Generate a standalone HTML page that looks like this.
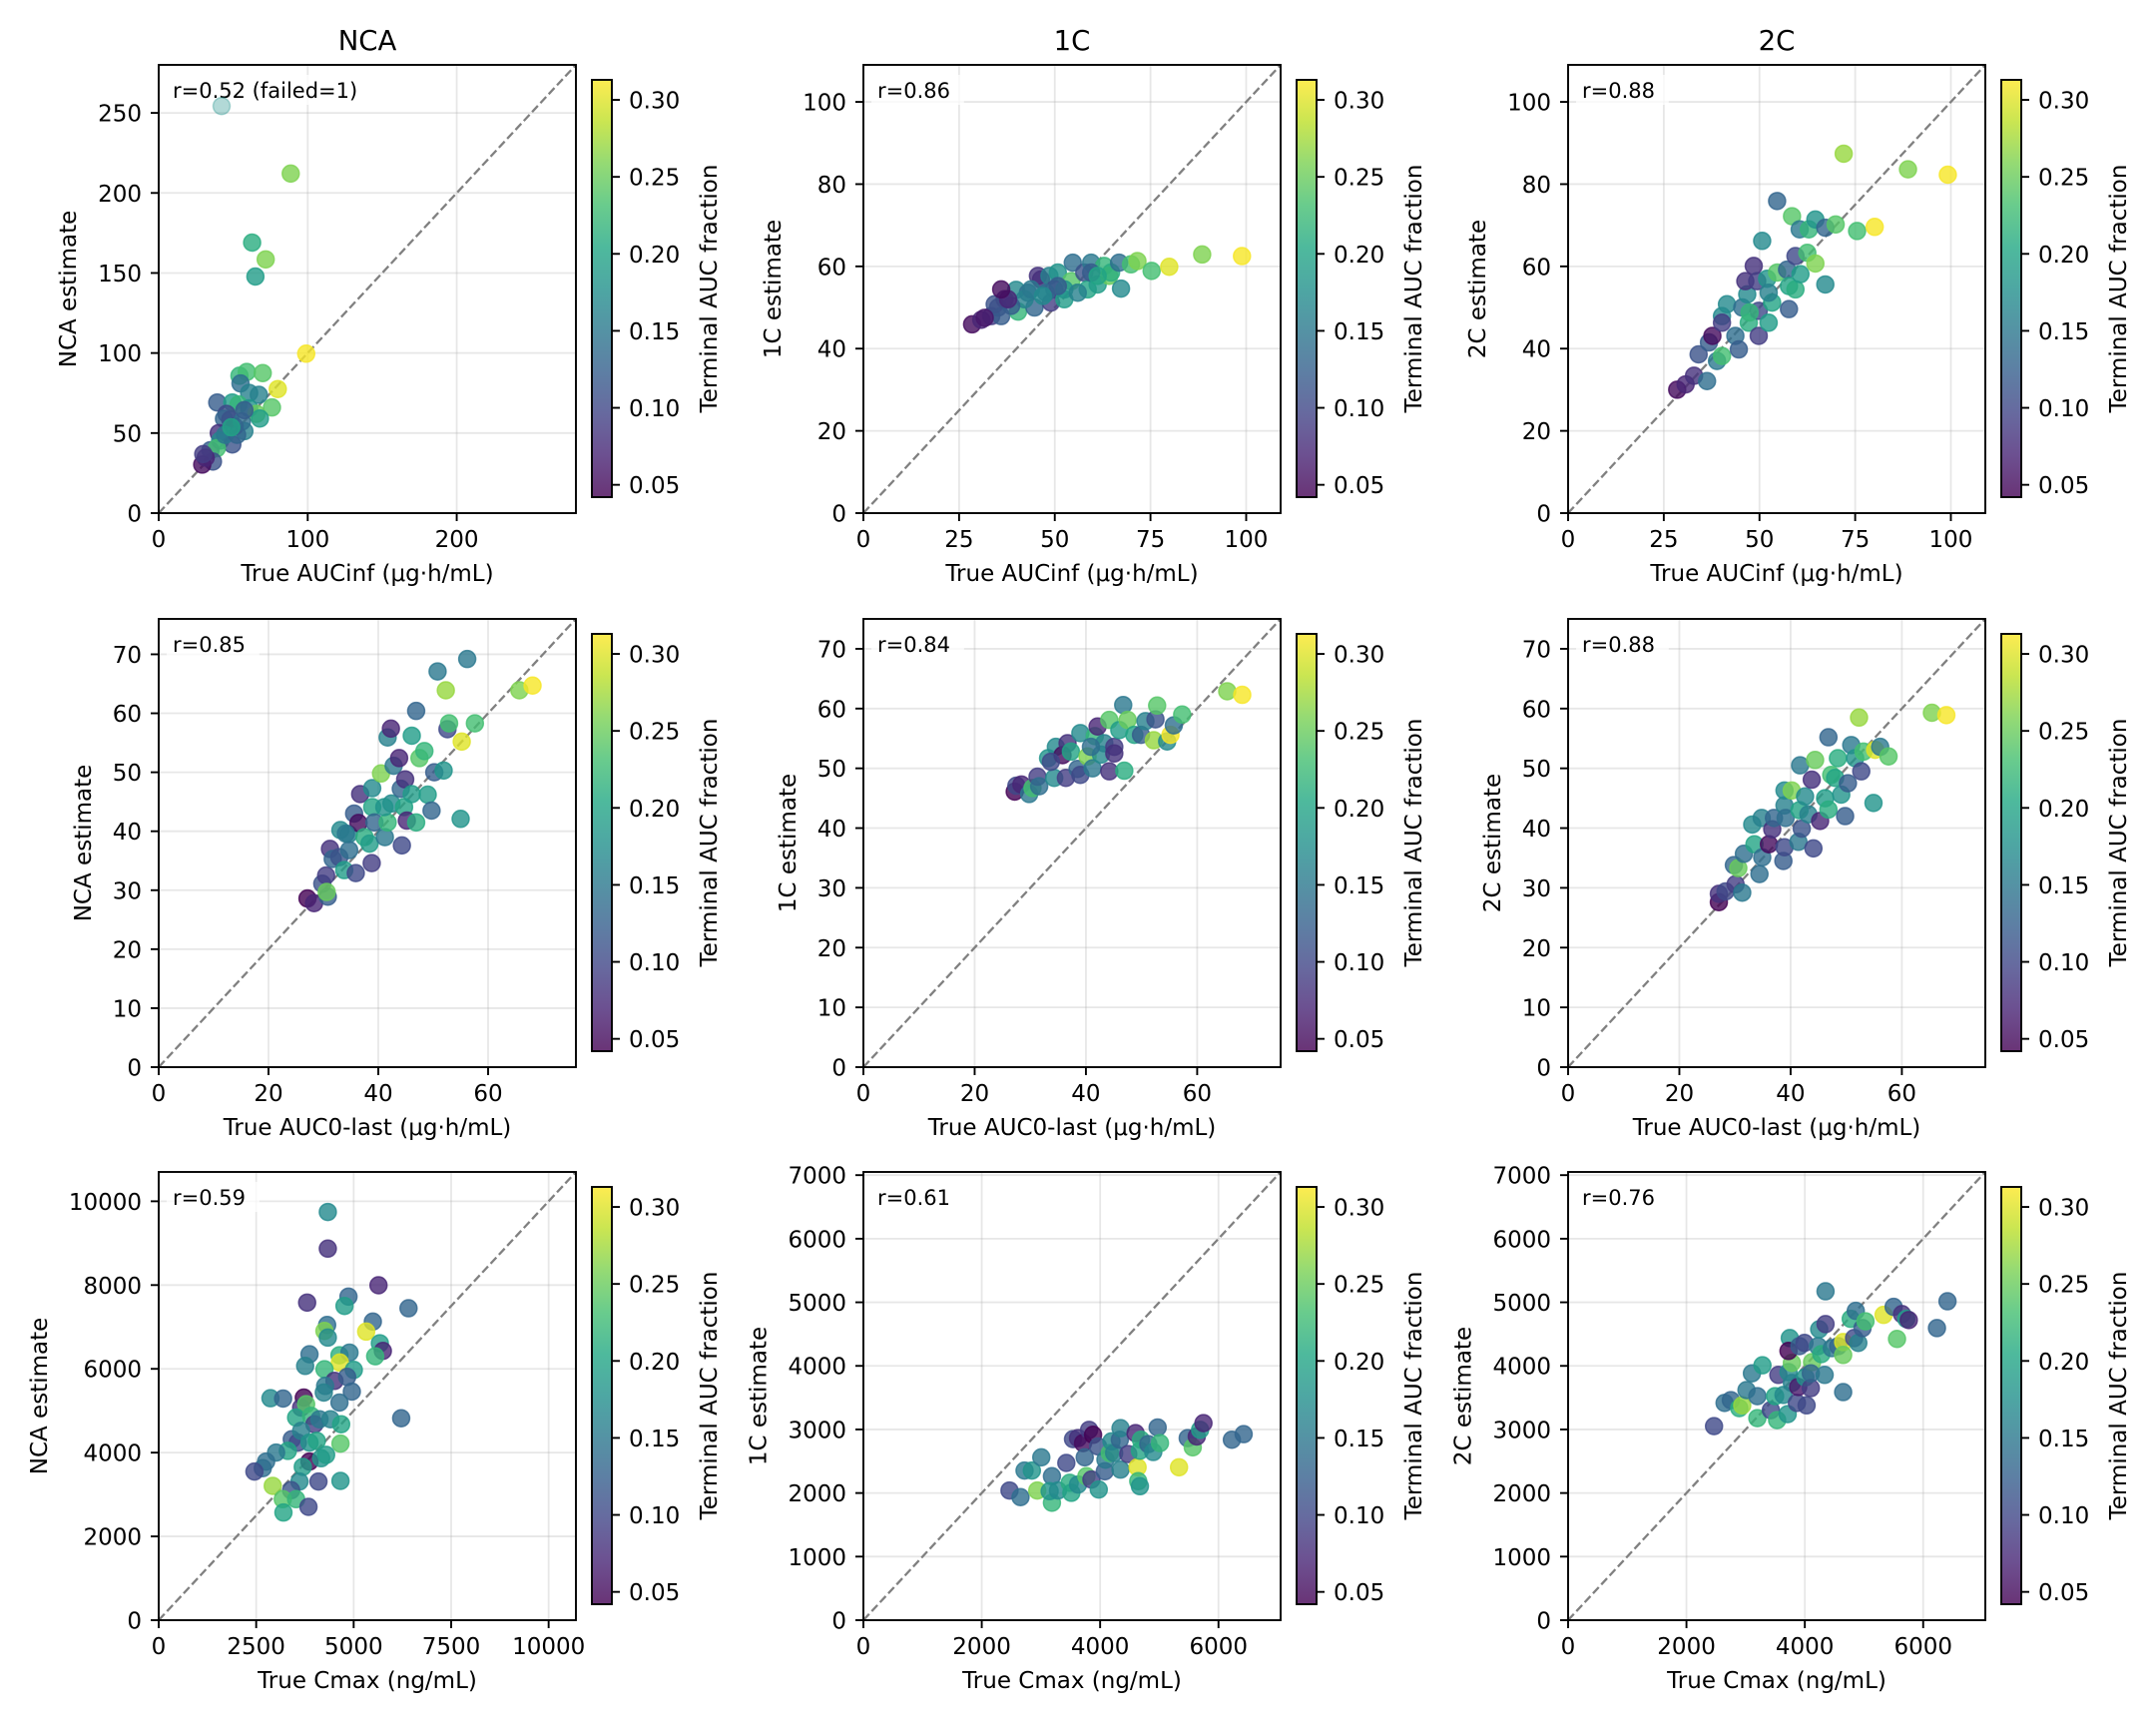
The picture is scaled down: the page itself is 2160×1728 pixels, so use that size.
<!DOCTYPE html>
<html><head><meta charset="utf-8"><title>Estimate vs truth</title>
<style>
html,body{margin:0;padding:0;background:#fff;}
svg{display:block;font-family:"DejaVu Sans","Liberation Sans",sans-serif;}
</style></head>
<body>
<svg id="fig" width="2160" height="1728" viewBox="0 0 2160 1728" xmlns="http://www.w3.org/2000/svg">
<defs>
<linearGradient id="vir" x1="0" y1="1" x2="0" y2="0">
<stop offset="0" stop-color="#440154"/><stop offset="0.1" stop-color="#482475"/><stop offset="0.2" stop-color="#414487"/><stop offset="0.3" stop-color="#355f8d"/><stop offset="0.4" stop-color="#2a788e"/><stop offset="0.5" stop-color="#21918c"/><stop offset="0.6" stop-color="#22a884"/><stop offset="0.7" stop-color="#44bf70"/><stop offset="0.8" stop-color="#7ad151"/><stop offset="0.9" stop-color="#bddf26"/><stop offset="1" stop-color="#fde725"/>
</linearGradient>
</defs>
</svg>
<script>
// ---- data: row1 (AUCinf) ----
const p11_x=[42.2,88.6,62.7,71.8,64.9,99.0,79.9,54.2,59.1,69.8,54.9,39.3,60.7,67.2,49.4,53.6,60.7,76.0,65.6,45.5,43.8,48.0,67.9,57.5,51.0,40.3,55.8,41.2,49.4,34.7,39.0,36.4,29.2,31.5,44.5,52.6,29.9,48.7,57.5];
const p11_y=[254.3,212.1,169.0,158.5,147.8,99.6,77.5,85.8,88.2,87.5,81.0,69.1,75.1,73.9,69.1,67.9,65.5,66.0,62.0,62.0,58.9,58.4,59.1,51.2,54.1,50.0,57.2,45.3,42.9,39.3,40.5,32.2,30.3,34.6,48.9,48.9,36.9,53.6,64.3];
const p11_c=[0.18,0.26,0.21,0.26,0.19,0.31,0.30,0.22,0.23,0.24,0.14,0.12,0.16,0.16,0.19,0.22,0.18,0.24,0.25,0.10,0.13,0.11,0.19,0.16,0.09,0.08,0.14,0.17,0.11,0.12,0.23,0.11,0.05,0.07,0.15,0.13,0.09,0.20,0.12];
const p12_x=[28.4,30.8,33.4,35.2,36.9,36.0,40.4,39.9,43.0,44.7,46.4,45.6,48.6,50.8,49.9,49.0,52.5,54.3,54.7,57.7,59.5,58.6,61.2,62.9,64.2,64.7,66.8,67.3,69.9,71.6,75.3,79.9,88.5,98.9,42.1,38.6,34.3,52.5,56.0,59.5,47.7,37.8,43.8,50.8,61.2,31.7,36.0,46.9];
const p12_y=[45.9,47.0,47.9,50.0,52.0,47.9,49.0,54.3,53.6,50.0,56.8,57.7,57.7,58.5,54.4,51.2,52.0,56.4,60.9,58.5,60.9,54.4,55.6,60.1,57.7,58.5,60.9,54.6,60.5,61.3,58.9,59.9,62.9,62.5,52.0,50.4,50.8,54.4,53.6,58.5,53.6,52.0,54.4,55.2,57.7,47.5,54.4,52.8];
const p12_c=[0.05,0.07,0.09,0.10,0.08,0.12,0.22,0.17,0.14,0.13,0.07,0.08,0.16,0.18,0.10,0.09,0.19,0.24,0.14,0.11,0.15,0.20,0.19,0.22,0.25,0.21,0.14,0.17,0.23,0.26,0.23,0.30,0.26,0.31,0.16,0.12,0.11,0.18,0.16,0.12,0.14,0.07,0.15,0.12,0.20,0.06,0.05,0.17];
const p13_x=[28.5,30.7,32.9,34.1,36.3,36.8,37.7,38.9,40.2,40.2,40.2,41.5,43.7,44.6,45.5,46.8,47.2,46.3,48.5,49.4,49.8,49.8,50.7,52.0,52.4,53.3,54.6,54.6,57.2,57.7,57.7,58.5,59.4,59.4,60.5,60.7,62.5,62.9,64.6,64.6,67.2,67.2,69.9,72.0,75.5,80.1,88.8,99.2,52.4,47.4];
const p13_y=[30.0,31.3,33.4,38.6,32.1,41.5,43.1,37.0,38.2,47.9,46.3,50.8,43.1,39.8,50.0,53.2,46.3,56.4,60.1,56.4,43.1,49.2,66.2,57.0,46.3,51.2,58.5,75.9,59.2,49.6,55.2,72.2,62.5,54.4,69.0,58.1,63.3,69.0,71.4,60.7,55.6,69.4,70.2,87.4,68.6,69.6,83.6,82.3,53.6,48.8];
const p13_c=[0.05,0.07,0.08,0.11,0.14,0.12,0.05,0.15,0.23,0.17,0.09,0.17,0.14,0.12,0.14,0.17,0.21,0.08,0.08,0.09,0.09,0.10,0.17,0.18,0.19,0.20,0.24,0.13,0.13,0.12,0.20,0.24,0.10,0.21,0.15,0.19,0.23,0.22,0.18,0.26,0.17,0.13,0.24,0.27,0.23,0.31,0.26,0.31,0.16,0.22];
// ---- data: row2 (AUC0-last) ----
const p21_x=[27.1,28.3,29.8,30.5,30.8,30.6,31.2,31.7,32.9,33.1,33.8,34.6,34.7,35.6,35.9,36.4,36.7,37.5,38.4,38.8,38.9,38.9,39.3,40.5,41.2,41.7,41.7,42.3,42.4,42.8,43.8,44.1,44.3,44.7,44.9,45.2,46.1,46.1,46.9,46.9,47.5,48.4,49.0,49.7,50.2,50.8,51.9,52.3,52.6,52.9,55.0,55.2,56.2,57.6,65.7,68.1,34.1,41.1];
const p21_y=[28.6,27.8,31.1,32.5,28.9,29.7,37.0,35.3,35.6,40.2,33.4,39.5,36.8,43.0,32.9,41.4,46.3,39.0,37.9,34.6,47.3,44.1,41.5,49.8,39.0,55.9,41.5,57.4,44.7,51.1,52.4,47.2,37.6,44.1,48.8,41.8,46.3,56.2,60.4,41.5,52.4,53.6,46.2,43.5,50.0,67.1,50.3,63.9,57.3,58.3,42.1,55.2,69.2,58.3,63.9,64.7,39.6,44.1];
const p21_c=[0.04,0.07,0.11,0.09,0.12,0.25,0.08,0.13,0.11,0.17,0.19,0.16,0.14,0.12,0.10,0.05,0.08,0.21,0.19,0.09,0.17,0.20,0.13,0.26,0.15,0.16,0.22,0.07,0.17,0.15,0.07,0.13,0.10,0.20,0.08,0.07,0.19,0.19,0.13,0.21,0.24,0.22,0.19,0.13,0.12,0.15,0.18,0.27,0.10,0.23,0.18,0.30,0.15,0.23,0.26,0.31,0.15,0.18];
const p22_x=[27.2,27.5,28.4,29.8,30.4,31.3,31.6,33.2,34.3,34.6,35.8,36.4,36.7,37.3,38.5,39.0,39.0,40.3,41.2,41.6,42.1,42.7,43.3,44.2,44.2,45.1,45.1,46.0,46.7,46.9,47.5,48.7,49.9,50.7,52.2,52.5,52.8,54.6,55.2,55.8,57.3,65.4,68.1,33.7,40.9];
const p22_y=[46.1,47.1,47.3,45.7,46.7,48.6,47.0,51.7,48.4,53.6,52.2,48.4,54.2,52.8,49.9,48.9,55.9,52.0,50.0,55.4,57.0,52.3,54.2,49.5,58.1,53.6,52.5,56.4,60.6,49.6,58.1,55.6,55.6,57.9,54.7,58.2,60.5,54.5,55.6,57.2,59.0,62.9,62.3,51.1,53.6];
const p22_c=[0.04,0.10,0.07,0.15,0.23,0.09,0.14,0.18,0.17,0.17,0.05,0.09,0.08,0.20,0.13,0.10,0.17,0.26,0.15,0.22,0.07,0.17,0.16,0.08,0.24,0.09,0.08,0.19,0.15,0.21,0.25,0.20,0.12,0.16,0.27,0.11,0.24,0.17,0.31,0.14,0.23,0.26,0.31,0.10,0.14];
const p23_x=[27.1,27.1,28.3,30.1,31.3,29.8,30.6,31.6,33.1,33.5,34.4,34.8,34.9,36.1,36.7,37.0,38.7,38.9,38.9,38.9,40.2,39.1,41.4,41.6,41.7,42.0,42.6,43.2,43.8,44.1,44.4,45.3,46.2,46.8,47.3,48.0,48.5,49.1,49.8,50.3,50.9,51.6,52.3,52.7,53.1,54.9,55.2,56.1,57.6,65.4,68.0,46.8];
const p23_y=[27.6,29.0,29.4,30.6,29.2,33.8,33.3,35.7,40.6,37.3,32.3,41.7,35.1,37.3,39.8,41.7,34.5,36.8,43.8,46.3,46.3,41.7,37.7,43.0,50.5,39.9,45.3,42.3,48.1,36.6,51.4,41.2,45.0,43.1,48.9,48.4,51.7,45.6,42.0,47.5,53.9,51.7,58.5,49.5,52.8,44.2,53.1,53.6,52.0,59.3,58.9,55.2];
const p23_c=[0.04,0.08,0.10,0.09,0.15,0.13,0.25,0.14,0.17,0.20,0.14,0.16,0.14,0.05,0.08,0.13,0.12,0.10,0.16,0.17,0.26,0.14,0.15,0.20,0.15,0.11,0.17,0.16,0.08,0.10,0.25,0.07,0.19,0.21,0.23,0.20,0.21,0.18,0.12,0.12,0.15,0.18,0.27,0.10,0.23,0.18,0.30,0.15,0.24,0.26,0.31,0.13];
// ---- data: row3 (Cmax) ----
const p31_x=[4337,4337,5637,3807,4867,4765,6407,4320,4250,4337,5492,5321,5672,5749,5552,3867,3756,4636,4893,4645,5004,4252,4508,4833,4269,4234,4953,4636,2866,3191,3721,3653,3781,3524,3909,3995,4123,4406,4679,3413,3567,3653,3867,4055,4662,3311,3011,2755,2669,2455,3867,3695,4166,4294,3610,4097,4662,2925,3396,3182,3524,3199,3841,6219];
const p31_y=[9745,8870,7995,7582,7725,7502,7446,7048,6905,6746,7128,6889,6611,6428,6300,6348,6070,6325,6388,6150,5975,5990,5712,5808,5593,5434,5457,5195,5298,5290,5314,5076,5155,4837,4877,4678,4797,4797,4678,4320,4240,4519,4240,4280,4216,4041,4002,3787,3628,3548,3787,3659,3866,3946,3309,3309,3325,3206,3103,2888,2888,2570,2705,4821];
const p31_c=[0.17,0.08,0.07,0.08,0.13,0.19,0.13,0.14,0.26,0.17,0.13,0.30,0.19,0.07,0.22,0.14,0.16,0.21,0.15,0.30,0.19,0.22,0.08,0.12,0.15,0.16,0.13,0.14,0.17,0.13,0.04,0.08,0.24,0.20,0.22,0.09,0.15,0.16,0.20,0.12,0.10,0.16,0.18,0.20,0.24,0.20,0.15,0.14,0.14,0.10,0.04,0.19,0.18,0.19,0.17,0.10,0.18,0.27,0.11,0.24,0.22,0.20,0.10,0.13];
const p32_x=[2469,2655,2723,2847,2938,3006,3186,3186,3147,3288,3429,3486,3514,3542,3627,3627,3712,3740,3768,3814,3881,3853,3966,3977,4079,4090,4164,4192,4237,4333,4345,4345,4475,4599,4633,4644,4672,4672,4689,4814,4898,4972,5011,5333,5480,5565,5633,5689,5746,6226,6425];
const p32_y=[2040,1935,2353,2353,2040,2561,2264,1847,2029,2040,2473,2160,2003,2848,2864,2134,2786,2561,2264,2994,2916,2212,2733,2055,2342,2525,2629,2812,2629,2838,3020,2368,2613,2942,2405,2186,2107,2666,2838,2770,2645,3031,2786,2405,2864,2718,2890,2994,3099,2838,2926];
const p32_c=[0.10,0.14,0.15,0.18,0.26,0.15,0.14,0.22,0.18,0.17,0.10,0.21,0.20,0.10,0.08,0.17,0.05,0.13,0.24,0.09,0.04,0.09,0.11,0.18,0.12,0.15,0.23,0.17,0.16,0.13,0.16,0.16,0.09,0.07,0.30,0.22,0.18,0.20,0.21,0.13,0.17,0.13,0.22,0.30,0.13,0.24,0.07,0.19,0.07,0.13,0.13];
const p33_x=[2466,2644,2750,2892,2942,3014,3106,3198,3198,3284,3426,3497,3532,3553,3639,3710,3724,3781,3781,3746,3724,3866,3888,3909,3994,4009,4030,4101,4122,4101,4222,4243,4279,4335,4350,4350,4456,4563,4648,4648,4648,4776,4833,4861,4904,4975,5025,5331,5501,5558,5643,5714,5757,6233,6411];
const p33_y=[3052,3417,3461,3335,3379,3619,3883,3524,3178,4009,3304,3524,3147,3858,3543,3241,3902,3732,4047,4437,4235,3417,3669,4311,4361,3820,3379,3650,4059,3883,4311,4575,4185,3858,5173,4657,4279,4311,3587,4374,4172,4739,4437,4865,4361,4594,4701,4802,4928,4424,4814,4739,4720,4594,5016];
const p33_c=[0.10,0.14,0.13,0.21,0.27,0.15,0.15,0.14,0.22,0.19,0.10,0.20,0.22,0.09,0.17,0.18,0.17,0.16,0.25,0.18,0.04,0.10,0.06,0.12,0.10,0.18,0.10,0.09,0.25,0.13,0.15,0.17,0.21,0.15,0.15,0.09,0.15,0.13,0.14,0.30,0.25,0.21,0.10,0.14,0.16,0.12,0.23,0.30,0.13,0.24,0.08,0.19,0.07,0.13,0.13];
// ---- labels / ticks ----
const colTitles=["NCA","1C","2C"];
const yLabels=["NCA estimate","1C estimate","2C estimate"];
const xLabels=["True AUCinf (μg·h/mL)","True AUC0-last (μg·h/mL)","True Cmax (ng/mL)"];
const rValues=["r=0.52 (failed=1)","r=0.86","r=0.88","r=0.85","r=0.84","r=0.88","r=0.59","r=0.61","r=0.76"];
const ticksAUCinfNCA=[0,100,200];
const ticksAUCinfNCAy=[0,50,100,150,200,250];
const ticksAUCinfX=[0,25,50,75,100];
const ticksAUCinfY=[0,20,40,60,80,100];
const ticksAUClast=[0,20,40,60];
const ticksAUClastY=[0,10,20,30,40,50,60,70];
const ticksCmaxNCA=[0,2500,5000,7500,10000];
const ticksCmaxNCAy=[0,2000,4000,6000,8000,10000];
const ticksCmax=[0,2000,4000,6000];
const ticksCmaxY=[0,1000,2000,3000,4000,5000,6000,7000];
const cbTicks=[0.05,0.10,0.15,0.20,0.25,0.30];
const cbRange=[0.042,0.313];
const limits=[280,109,109,76,75,75,10700,7050,7050];

const NS="http://www.w3.org/2000/svg";
const svg=document.getElementById('fig');
const VIR=["#440154","#482475","#414487","#355f8d","#2a788e","#21918c","#22a884","#44bf70","#7ad151","#bddf26","#fde725"];
function hex(h){return [parseInt(h.substr(1,2),16),parseInt(h.substr(3,2),16),parseInt(h.substr(5,2),16)];}
function viridis(v){
  let t=(v-cbRange[0])/(cbRange[1]-cbRange[0]);t=Math.max(0,Math.min(1,t));
  const f=t*10,i=Math.min(9,Math.floor(f)),r=f-i;const a=hex(VIR[i]),b=hex(VIR[i+1]);
  return "rgb("+a.map((c,k)=>Math.round(c+(b[k]-c)*r)).join(",")+")";
}
function el(tag,parent){const e=document.createElementNS(NS,tag);parent.appendChild(e);return e;}
function set(e,o){for(const k in o)e.setAttribute(k,o[k]);return e;}

const COLX=[159,865,1571], ROWY=[65,620,1174], W=418, H=449;
const series=[[p11_x,p11_y,p11_c],[p12_x,p12_y,p12_c],[p13_x,p13_y,p13_c],[p21_x,p21_y,p21_c],[p22_x,p22_y,p22_c],[p23_x,p23_y,p23_c],[p31_x,p31_y,p31_c],[p32_x,p32_y,p32_c],[p33_x,p33_y,p33_c]];
const xt=[ticksAUCinfNCA,ticksAUCinfX,ticksAUCinfX,ticksAUClast,ticksAUClast,ticksAUClast,ticksCmaxNCA,ticksCmax,ticksCmax];
const yt=[ticksAUCinfNCAy,ticksAUCinfY,ticksAUCinfY,ticksAUClastY,ticksAUClastY,ticksAUClastY,ticksCmaxNCAy,ticksCmaxY,ticksCmaxY];
const FS=23;

for(let r=0;r<3;r++)for(let c=0;c<3;c++){
  const idx=r*3+c, L=COLX[c], T=ROWY[r], lim=limits[idx];
  const sx=v=>L+v/lim*W, sy=v=>T+H-v/lim*H;
  const g=el('g',svg);
  
  
  const clip=el('clipPath',svg);set(clip,{id:'cl'+idx});
  set(el('rect',clip),{x:L,y:T,width:W,height:H});
  xt[idx].forEach(v=>{const l=el('line',g);set(l,{x1:sx(v),x2:sx(v),y1:T,y2:T+H,stroke:'#b0b0b0','stroke-opacity':0.3,'stroke-width':1.8});
    
    });
  yt[idx].forEach(v=>{const l=el('line',g);set(l,{x1:L,x2:L+W,y1:sy(v),y2:sy(v),stroke:'#b0b0b0','stroke-opacity':0.3,'stroke-width':1.8});
    
    });
  const d=el('line',g);set(d,{x1:sx(0),y1:sy(0),x2:sx(lim),y2:sy(lim),stroke:'#808080','stroke-width':2.3,'stroke-dasharray':'8.5,3.7','clip-path':'url(#cl'+idx+')'});
  
  
  const ab=el('rect',g);set(ab,{x:L+8,y:T+10,width:rValues[idx].length*12.8+16,height:30,fill:'#fff','fill-opacity':0.75});
  const at=el('text',g);set(at,{x:L+14,y:T+33,'font-size':21,fill:'#000'});at.textContent=rValues[idx];
  
  
  const [X,Y,C]=series[idx];
  const pg=el('g',g);set(pg,{'clip-path':'url(#cl'+idx+')'});
  for(let i=0;i<X.length;i++){
    const col=viridis(C[i]);
    const op=(idx===0&&i===0)?0.35:0.8;
    const p=el('circle',pg);
    set(p,{cx:sx(X[i]),cy:sy(Y[i]),r:8.5,fill:col,'fill-opacity':op,stroke:col,'stroke-opacity':op,'stroke-width':1.5});
    
    
  }
  const sp=el('rect',g);set(sp,{x:L,y:T,width:W,height:H,fill:'none',stroke:'#000','stroke-width':1.9});
  
  
  xt[idx].forEach(v=>{const x=sx(v);set(el('line',g),{x1:x,x2:x,y1:T+H,y2:T+H+8,stroke:'#000','stroke-width':1.9});
    const t=el('text',g);set(t,{x:x,y:T+H+34,'font-size':FS,'text-anchor':'middle'});t.textContent=String(v);
    
    });
  let maxw=0;
  yt[idx].forEach(v=>{const y=sy(v);set(el('line',g),{x1:L-8,x2:L,y1:y,y2:y,stroke:'#000','stroke-width':1.9});
    const t=el('text',g);set(t,{x:L-17,y:y+8.5,'font-size':FS,'text-anchor':'end'});t.textContent=String(v);
    
    
    maxw=Math.max(maxw,String(v).length*14.6);});
  const xl=el('text',g);set(xl,{x:L+W/2,y:T+H+68,'font-size':FS,'text-anchor':'middle'});xl.textContent=xLabels[r];
  
  
  const yx=L-17-maxw-29;
  const yl=el('text',g);set(yl,{x:yx,y:T+H/2,'font-size':FS,'text-anchor':'middle','dominant-baseline':'central',transform:'rotate(-90 '+yx+' '+(T+H/2)+')'});yl.textContent=yLabels[c];
  
  
  if(r===0){const tt=el('text',g);set(tt,{x:L+W/2,y:T-15,'font-size':27.5,'text-anchor':'middle'});tt.textContent=colTitles[c];
    
    }
  const cx=L+W+16, cy=T+15, cw=20, ch=418;
  const cb=el('g',svg);
  
  
  set(el('rect',cb),{x:cx,y:cy,width:cw,height:ch,fill:'url(#vir)','fill-opacity':0.8});
  set(el('rect',cb),{x:cx,y:cy,width:cw,height:ch,fill:'none',stroke:'#000','stroke-width':1.9});
  cbTicks.forEach(v=>{const y=cy+ch-(v-cbRange[0])/(cbRange[1]-cbRange[0])*ch;
    set(el('line',cb),{x1:cx+cw,x2:cx+cw+8,y1:y,y2:y,stroke:'#000','stroke-width':1.9});
    const t=el('text',cb);set(t,{x:cx+cw+17,y:y+8.5,'font-size':FS});t.textContent=v.toFixed(2);
    
    });
  const clx=cx+118;
  const cl=el('text',cb);set(cl,{x:clx,y:cy+ch/2,'font-size':FS,'text-anchor':'middle','dominant-baseline':'central',transform:'rotate(-90 '+clx+' '+(cy+ch/2)+')'});cl.textContent='Terminal AUC fraction';
  
  
}
</script>
</body></html>
